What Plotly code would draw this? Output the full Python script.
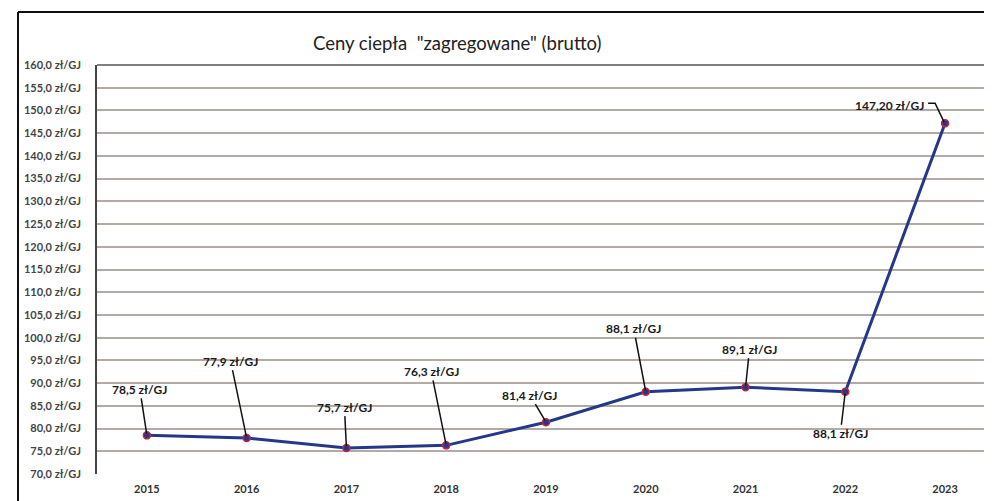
import plotly.graph_objects as go

years = ["2015", "2016", "2017", "2018", "2019", "2020", "2021", "2022", "2023"]
prices = [78.5, 77.9, 75.7, 76.3, 81.4, 88.1, 89.1, 88.1, 147.2]
labels = ["78,5 zł/GJ", "77,9 zł/GJ", "75,7 zł/GJ", "76,3 zł/GJ", "81,4 zł/GJ",
          "88,1 zł/GJ", "89,1 zł/GJ", "88,1 zł/GJ", "147,20 zł/GJ"]
# label offsets (pixels) from each point
label_dx = [-7, -16, -2, -15, -16, -12, 4, -5, -56]
label_dy = [-46, -77, -41, -74, -27, -63, -38, 42, -18]
ytick_vals = list(range(70, 161, 5))
ytick_text = [f"{v},0 zł/GJ" for v in ytick_vals]
title = 'Ceny ciepła  "zagregowane" (brutto)'

OFF = 8  # page body margin
W, H = 992 - OFF, 501 - OFF
L, T = 97 - OFF, 65 - OFF
B = H - (474 - OFF)
R = W - (987 - OFF)
FONT = "Lato, 'Open Sans', sans-serif"

xs = list(range(len(years)))

fig = go.Figure()
fig.add_trace(go.Scatter(
    x=xs, y=prices, mode="lines+markers",
    line=dict(color="#25378a", width=3),
    marker=dict(size=7, color="#25378a", line=dict(color="#c0283a", width=1.5)),
    hoverinfo="skip", showlegend=False,
))

annotations = []
shapes = []
for i, (x, y, t, dx, dy) in enumerate(zip(xs, prices, labels, label_dx, label_dy)):
    if i == len(xs) - 1:
        annotations.append(dict(x=x, y=y, xref="x", yref="y", text=t, showarrow=False,
                                xshift=dx, yshift=-dy,
                                font=dict(family=FONT, size=12, color="#1a1a1a", weight="bold")))
        shapes.append(dict(type="path", xref="x", yref="y", xsizemode="pixel", ysizemode="pixel",
                           xanchor=x, yanchor=y,
                           path="M -17 20 L -10 20 L -1 1",
                           line=dict(color="#111", width=1.5)))
    else:
        annotations.append(dict(x=x, y=y, xref="x", yref="y", text=t, showarrow=True,
                                arrowhead=0, arrowwidth=1.5, arrowcolor="#111",
                                ax=dx, ay=dy, standoff=2,
                                font=dict(family=FONT, size=12, color="#1a1a1a", weight="bold")))

ph = H - T - B
pw = W - L - R
def px(xp):
    return (xp - OFF - L) / pw
def py(yp):
    return (H - B - (yp - OFF)) / ph

annotations.append(dict(x=px(457), y=py(43), xref="paper", yref="paper",
                        text=title, showarrow=False, xanchor="center", yanchor="middle",
                        font=dict(family=FONT, size=18.5, color="#222")))

# outer frame
shapes.append(dict(type="line", xref="paper", yref="paper", x0=px(18), x1=px(1000), y0=py(12), y1=py(12),
                   line=dict(color="#111", width=2)))
shapes.append(dict(type="line", xref="paper", yref="paper", x0=px(18), x1=px(18), y0=py(12), y1=py(510),
                   line=dict(color="#111", width=2)))
# plot area top border & right border
shapes.append(dict(type="line", xref="paper", yref="paper", x0=0, x1=1, y0=1, y1=1,
                   line=dict(color="#555", width=1.5)))
shapes.append(dict(type="line", xref="paper", yref="paper", x0=1, x1=1, y0=0, y1=1,
                   line=dict(color="#ddd", width=1)))

fig.update_layout(
    width=W, height=H,
    margin=dict(l=L, r=R, t=T, b=B, pad=0, autoexpand=False),
    paper_bgcolor="white", plot_bgcolor="white",
    annotations=annotations, shapes=shapes,
    xaxis=dict(range=[-0.5, 8.42], tickvals=xs, ticktext=years, showgrid=False, zeroline=False,
               ticks="", ticklabelstandoff=7, automargin=False,
               tickfont=dict(family=FONT, size=11, color="#333", weight="bold"),
               showline=False),
    yaxis=dict(range=[70, 160], tickvals=ytick_vals, ticktext=ytick_text,
               showgrid=True, gridcolor="#b3aaa5", gridwidth=1.5, zeroline=False,
               ticks="", ticklabelstandoff=12, automargin=False,
               tickfont=dict(family=FONT, size=11, color="#444", weight="bold"),
               showline=True, linecolor="#444", linewidth=1.5),
)

fig.write_html("out.html")
